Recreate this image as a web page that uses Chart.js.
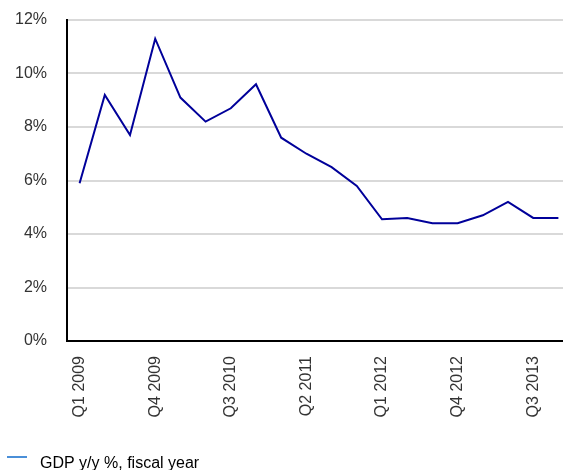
<!DOCTYPE html>
<html>
<head>
<meta charset="utf-8">
<script src="https://cdn.jsdelivr.net/npm/chart.js@4/dist/chart.umd.min.js"></script>
<style>
  html, body { margin: 0; padding: 0; background: #fff; overflow: hidden; }
  #wrap { position: absolute; left: 0; top: 0; width: 571px; height: 482px; }
</style>
</head>
<body>
<div id="wrap"><canvas id="c"></canvas></div>
<script>
// Quarterly GDP growth, year on year
const quarters = [
  'Q1 2009', 'Q2 2009', 'Q3 2009', 'Q4 2009',
  'Q1 2010', 'Q2 2010', 'Q3 2010', 'Q4 2010',
  'Q1 2011', 'Q2 2011', 'Q3 2011', 'Q4 2011',
  'Q1 2012', 'Q2 2012', 'Q3 2012', 'Q4 2012',
  'Q1 2013', 'Q2 2013', 'Q3 2013', 'Q4 2013'
];
const gdpGrowth = [
  5.9, 9.2, 7.7, 11.3,
  9.1, 8.2, 8.7, 9.6,
  7.6, 7.0, 6.5, 5.8,
  4.55, 4.6, 4.4, 4.4,
  4.7, 5.2, 4.6, 4.6
];
const yTicks = [0, 2, 4, 6, 8, 10, 12];
const seriesName = 'GDP y/y %, fiscal year';

// legend marker: short line sitting near the top of the text
const marker = document.createElement('canvas');
marker.width = 25; marker.height = 16;
(function () {
  const g = marker.getContext('2d');
  g.strokeStyle = '#4a8fd8';
  g.lineWidth = 2;
  g.beginPath(); g.moveTo(0, 1); g.lineTo(20, 1); g.stroke();
})();

const font = 'Liberation Sans, Arial, sans-serif';

new Chart(document.getElementById('c'), {
  type: 'line',
  data: {
    labels: quarters,
    datasets: [{
      label: seriesName,
      data: gdpGrowth,
      borderColor: '#00009a',
      borderWidth: 2,
      pointRadius: 0,
      tension: 0,
      fill: false
    }]
  },
  options: {
    responsive: true,
    maintainAspectRatio: false,
    animation: false,
    layout: { padding: { top: 20, left: 7, right: 0, bottom: 0 } },
    plugins: {
      tooltip: { enabled: false },
      legend: {
        position: 'bottom',
        align: 'start',
        labels: {
          color: '#333',
          font: { family: font, size: 16 },
          usePointStyle: true,
          pointStyleWidth: 25,
          padding: 0,
          generateLabels: () => [{
            text: seriesName,
            pointStyle: marker,
            fillStyle: '#4a8fd8',
            strokeStyle: '#4a8fd8',
            lineWidth: 0,
            hidden: false,
            datasetIndex: 0
          }]
        }
      }
    },
    scales: {
      x: {
        offset: true,
        grid: { display: false, drawTicks: false },
        border: { display: true, color: '#000', width: 2 },
        ticks: {
          autoSkip: false,
          minRotation: 90,
          maxRotation: 90,
          padding: 15,
          color: '#333',
          font: { family: font, size: 16 },
          callback: function (v, i) { return i % 3 === 0 ? quarters[i] : ''; }
        },
        afterFit: s => { s.height = 115; s.paddingLeft = 0; s.paddingRight = 0; }
      },
      y: {
        min: 0,
        max: 12,
        afterBuildTicks: s => { s.ticks = yTicks.map(v => ({ value: v })); },
        grid: { color: '#d9d9d9', lineWidth: 2, drawTicks: false },
        border: { display: true, color: '#000', width: 2 },
        ticks: {
          padding: 20,
          color: '#333',
          font: { family: font, size: 16 },
          callback: v => v + '%'
        },
        afterFit: s => { s.width = 60; s.paddingTop = 0; s.paddingBottom = 0; }
      }
    }
  }
});
</script>
</body>
</html>
